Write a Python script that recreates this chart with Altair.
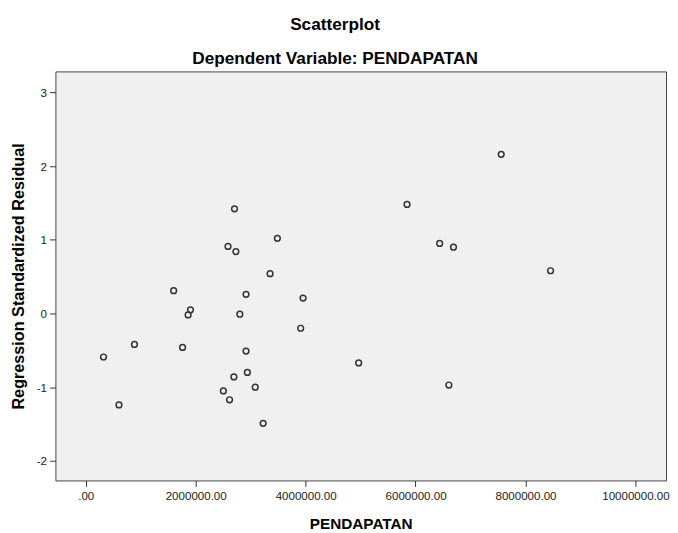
import altair as alt
import pandas as pd

pendapatan = [2706000, 3486000, 2588000, 2731000, 3353000, 1599000, 2916000, 3953000,
              1905000, 1862000, 2803000, 3910000, 886000, 1761000, 2916000, 323000,
              2940000, 2695000, 3083000, 2503000, 2616000, 604000, 3227000, 7558000,
              5845000, 6438000, 6690000, 8456000, 4965000, 6606000]
residual = [1.42, 1.02, 0.91, 0.84, 0.54, 0.31, 0.26, 0.21,
            0.05, -0.02, -0.01, -0.20, -0.42, -0.46, -0.51, -0.59,
            -0.80, -0.86, -1.00, -1.05, -1.17, -1.24, -1.49, 2.16,
            1.48, 0.95, 0.90, 0.58, -0.67, -0.97]

x_ticks = [0, 2000000, 4000000, 6000000, 8000000, 10000000]
y_ticks = [-2, -1, 0, 1, 2, 3]

df = pd.DataFrame({"PENDAPATAN": pendapatan, "RESID": residual})

FONT = "Liberation Sans"

chart = alt.Chart(df).mark_point(
    shape="circle", filled=False, color="#333333", size=34, strokeWidth=1.5, opacity=1
).encode(
    x=alt.X(
        "PENDAPATAN:Q",
        scale=alt.Scale(domain=[-552000, 10557000], nice=False, zero=False),
        axis=alt.Axis(
            values=x_ticks,
            labelExpr="datum.value == 0 ? '.00' : format(datum.value, '.2f')",
            title="PENDAPATAN",
            grid=False,
            domain=False,
            tickSize=6,
            tickColor="#333333",
            labelPadding=4,
            labelFont=FONT,
            labelFontSize=11.7,
            labelColor="#222222",
            titleFont=FONT,
            titleFontSize=15.5,
            titleFontWeight="bold",
            titleColor="#000000",
            titleY=49,
            titleBaseline="alphabetic",
        ),
    ),
    y=alt.Y(
        "RESID:Q",
        scale=alt.Scale(domain=[-2.265, 3.284], nice=False, zero=False),
        axis=alt.Axis(
            values=y_ticks,
            labelExpr="'' + datum.value",
            title="Regression Standardized Residual",
            grid=False,
            domain=False,
            tickSize=6,
            tickColor="#333333",
            labelPadding=3,
            labelFont=FONT,
            labelFontSize=11.7,
            labelColor="#222222",
            titleFont=FONT,
            titleFontSize=16.4,
            titleFontWeight="bold",
            titleColor="#000000",
            titleX=-32,
            titleY=207,
            titleAngle=270,
            titleAlign="center",
            titleBaseline="alphabetic",
        ),
    ),
).properties(
    width=618,
    height=414,
    title=alt.TitleParams(
        text=["Scatterplot", "Dependent Variable: PENDAPATAN"],
        font=FONT,
        fontSize=17.4,
        fontWeight="bold",
        color="#000000",
        anchor="middle",
        frame="group",
        dx=-26,
        lineHeight=35,
        baseline="bottom",
        offset=-14,
    ),
    autosize=alt.AutoSizeParams(type="none"),
    padding={"left": 48, "top": 61, "right": 4, "bottom": 52},
).configure_view(
    fill="#F0F0F0", stroke="#444444", strokeWidth=1
)

chart.save("out.html", embed_options={"renderer": "svg", "actions": False})
